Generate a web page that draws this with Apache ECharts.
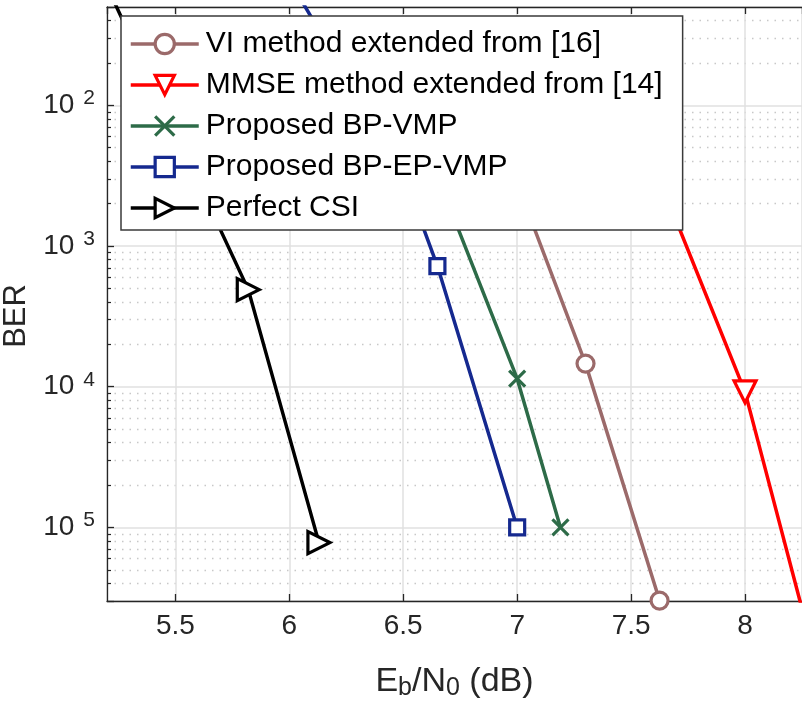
<!DOCTYPE html>
<html><head><meta charset="utf-8">
<script src="https://cdn.jsdelivr.net/npm/echarts@6/dist/echarts.min.js"></script>
<style>html,body{margin:0;padding:0;background:#fff}#c{width:802px;height:708px}</style>
</head><body><div id="c"></div>
<script>
// ---- data ----
const seriesNames = ['VI method extended from [16]', 'MMSE method extended from [14]', 'Proposed BP-VMP', 'Proposed BP-EP-VMP', 'Perfect CSI'];
const ebn0VI = [7.0, 7.3, 7.625];
const berVI = [2.8e-3, 1.46e-4, 3.02e-6];
const ebn0MMSE = [7.5, 8.0, 8.3];
const berMMSE = [9.5e-3, 9.2e-5, 1.3e-6];
const ebn0BPVMP = [6.5, 7.0, 7.19];
const berBPVMP = [1.3e-2, 1.14e-4, 1.0e-5];
const ebn0BPEPVMP = [6.0, 6.5, 6.65, 7.0];
const berBPEPVMP = [7.8e-2, 3.3e-3, 7.2e-4, 1.0e-5];
const ebn0CSI = [5.2, 5.82, 6.13];
const berCSI = [7.0e-2, 4.9e-4, 7.8e-6];
const xTickLabels = [5.5, 6, 6.5, 7, 7.5, 8];
const yTickExponents = [-2, -3, -4, -5];

const font = '"Liberation Sans", Arial, Helvetica, sans-serif';
const axisColor = '#262626';
const colors = ['#9b6a6a', '#ff0000', '#2d6b48', '#15298f', '#000000'];

function mk(name, xs, ys, color, symbol, size, rotate) {
  return {
    name: name, type: 'line',
    data: xs.map(function (x, i) { return [x, ys[i]]; }),
    symbol: symbol, symbolSize: size, symbolRotate: rotate || 0,
    showAllSymbol: true, clip: true,
    lineStyle: { color: color, width: 3.5 },
    itemStyle: { color: '#ffffff', borderColor: color, borderWidth: 3.2 },
    emphasis: { disabled: true }, animation: false
  };
}
const crossPath = 'path://M0,0 L10,10 M10,0 L0,10';

const chart = echarts.init(document.getElementById('c'));
chart.setOption({
  backgroundColor: '#ffffff',
  animation: false,
  grid: { left: 107, right: 0, top: 7, bottom: 107, containLabel: false, outerBoundsMode: 'none' },
  xAxis: [{
    type: 'value', min: 5.2, max: 8.25, splitNumber: 6,
    axisLine: { show: true, onZero: false, lineStyle: { color: axisColor, width: 1.3 } },
    axisTick: { show: true, inside: true, length: 7, lineStyle: { color: axisColor, width: 1.3 } },
    axisLabel: {
      color: axisColor, fontFamily: font, fontSize: 28, margin: 11,
      showMinLabel: false, showMaxLabel: false,
      formatter: function (v) {
        return xTickLabels.some(function (t) { return Math.abs(t - v) < 1e-6; }) ? String(v) : '';
      }
    },
    splitLine: { show: true, lineStyle: { color: '#e0e0e0', width: 1.5 } },
    name: '{n|E}{s|b}{n|/N}{s|0}{n| (dB)}',
    nameLocation: 'middle', nameGap: 64,
    nameTextStyle: {
      rich: {
        n: { fontFamily: font, fontSize: 34, color: axisColor, padding: [0, 0, 13, 0] },
        s: { fontFamily: font, fontSize: 25, color: axisColor }
      }
    }
  }, {
    type: 'value', min: 5.2, max: 8.25, splitNumber: 6, position: 'top',
    axisLine: { show: true, onZero: false, lineStyle: { color: axisColor, width: 1.3 } },
    axisTick: { show: true, inside: true, length: 7, lineStyle: { color: axisColor, width: 1.3 } },
    axisLabel: { show: false }, splitLine: { show: false }
  }],
  yAxis: {
    type: 'log', logBase: 10, min: 3e-6, max: 5e-2,
    axisLine: { show: true, onZero: false, lineStyle: { color: axisColor, width: 1.3 } },
    axisTick: { show: true, inside: true, length: 7, lineStyle: { color: axisColor, width: 1.3 } },
    minorTick: { show: true, splitNumber: 9, length: 4, lineStyle: { color: axisColor, width: 1.2 } },
    splitLine: { show: true, lineStyle: { color: '#e0e0e0', width: 1.5 } },
    minorSplitLine: { show: true, lineStyle: { color: '#c8c8c8', width: 1.3, type: [1.5, 6] } },
    axisLabel: {
      margin: 12, showMinLabel: false, showMaxLabel: false,
      formatter: function (v) {
        const l = Math.log10(v), e = Math.round(l);
        if (Math.abs(l - e) > 1e-6 || yTickExponents.indexOf(e) < 0) return '';
        return '{b|10}{s|' + Math.abs(e) + '}';
      },
      rich: {
        b: { fontFamily: font, fontSize: 28, color: axisColor },
        s: { fontFamily: font, fontSize: 21, color: axisColor, padding: [0, 0, 14, 9] }
      }
    },
    name: 'BER', nameLocation: 'middle', nameGap: 66,
    nameTextStyle: { fontFamily: font, fontSize: 31, color: axisColor, padding: [0, 24, 0, 0] }
  },
  legend: {
    data: seriesNames, orient: 'vertical', left: 121, top: 16,
    backgroundColor: '#ffffff', borderColor: '#3a3a3a', borderWidth: 1.5, borderRadius: 0,
    padding: [13, 20, 7, 8], itemWidth: 68, itemHeight: 24, itemGap: 11,
    selectedMode: false,
    lineStyle: { width: 3.5 },
    itemStyle: { borderWidth: 3.2 },
    textStyle: { fontFamily: font, fontSize: 30, color: '#000', lineHeight: 30, padding: [0, 0, 0, 2] }
  },
  series: [
    mk(seriesNames[0], ebn0VI, berVI, colors[0], 'circle', 17, 0),
    mk(seriesNames[1], ebn0MMSE, berMMSE, colors[1], 'triangle', 22, 180),
    mk(seriesNames[2], ebn0BPVMP, berBPVMP, colors[2], crossPath, 16, 0),
    mk(seriesNames[3], ebn0BPEPVMP, berBPEPVMP, colors[3], 'rect', 15, 0),
    mk(seriesNames[4], ebn0CSI, berCSI, colors[4], 'triangle', 22, -90)
  ]
});
</script></body></html>
